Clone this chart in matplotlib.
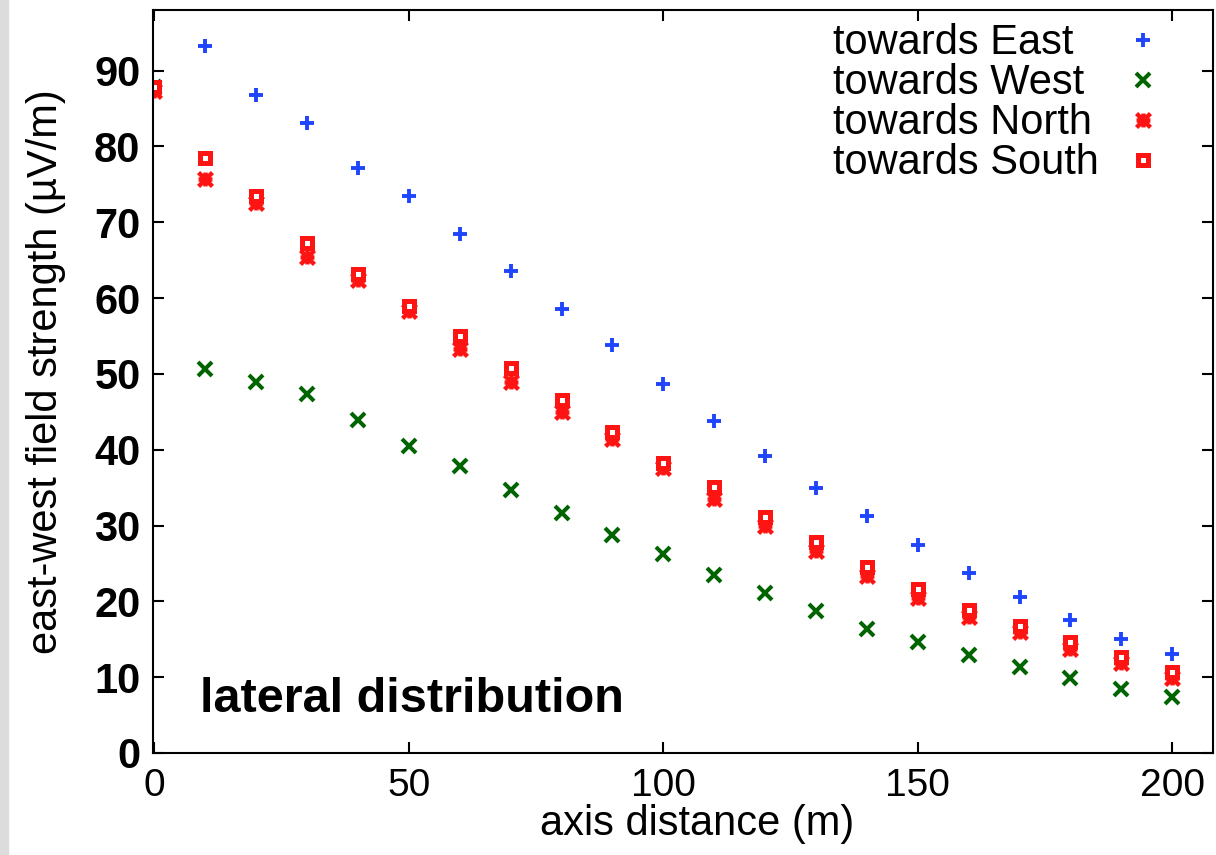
import numpy as np
import matplotlib.pyplot as plt
from matplotlib.patches import Rectangle
from matplotlib.path import Path

##### DATA #####

dist = [0, 10, 20, 30, 40, 50, 60, 70, 80, 90, 100,
        110, 120, 130, 140, 150, 160, 170, 180, 190, 200]

east = [87.8, 93.3, 86.8, 83.1, 77.2, 73.5, 68.4, 63.6, 58.5, 53.8, 48.7,
        43.8, 39.2, 34.9, 31.2, 27.4, 23.8, 20.6, 17.6, 15.1, 13.0]
west = [87.8, 50.7, 49.0, 47.4, 43.9, 40.5, 37.9, 34.7, 31.6, 28.8, 26.2,
        23.5, 21.1, 18.7, 16.3, 14.6, 12.9, 11.3, 9.9, 8.5, 7.4]
north = [87.3, 75.7, 72.5, 65.4, 62.4, 58.3, 53.3, 48.9, 45.0, 41.4, 37.6,
         33.5, 29.9, 26.6, 23.4, 20.5, 18.0, 15.9, 13.7, 11.9, 9.9]
south = [87.9, 78.5, 73.5, 67.3, 63.2, 59.0, 55.0, 50.8, 46.6, 42.4, 38.3,
         35.1, 31.1, 27.8, 24.5, 21.6, 18.9, 16.7, 14.6, 12.6, 10.7]

labels = ['towards East', 'towards West', 'towards North', 'towards South']

xticks = [0, 50, 100, 150, 200]
yticks = [0, 10, 20, 30, 40, 50, 60, 70, 80, 90]

##### FIGURE #####

plt.rcParams['font.family'] = ['Liberation Sans', 'DejaVu Sans']

fig = plt.figure(figsize=(12.16, 8.55), dpi=100)
ax = fig.add_axes([0.1258, 0.1193, 0.8717, 0.869])

# grey strip on the left edge of the screenshot
fig.patches.append(Rectangle((0, 0), 8 / 1216, 1, transform=fig.transFigure,
                             color='#dcdcdc', zorder=-1))

# gnuplot style asterisk: a plus with an x running to the corners
M, L = Path.MOVETO, Path.LINETO
star = Path([(-1, 0), (1, 0), (0, -1), (0, 1), (-1, -1), (1, 1), (-1, 1), (1, -1)],
            [M, L, M, L, M, L, M, L])

red = '#ff1414'
h1, = ax.plot(dist, east, ls='none', marker='+', ms=10.5, mew=2.8, color='#1f45fc')
h2, = ax.plot(dist, west, ls='none', marker='x', ms=9.5, mew=2.9, color='#006400')
h3, = ax.plot(dist, north, ls='none', marker=star, ms=10, mew=3.2, color=red)
h4, = ax.plot(dist, south, ls='none', marker='s', ms=7.4, mew=3.6, color=red,
              mfc='white')
handles = [h1, h2, h3, h4]

ax.set_xlim(-0.3, 208)
ax.set_ylim(0, 98)
ax.set_xticks(xticks)
ax.set_yticks(yticks)

ax.tick_params(direction='in', length=8, width=1.5, top=True, right=True)
ax.tick_params(axis='x', labelsize=28, pad=11)
ax.tick_params(axis='y', labelsize=30, pad=9)
for lab in ax.get_yticklabels():
    lab.set_fontweight('bold')
for sp in ax.spines.values():
    sp.set_linewidth(1.5)

ax.set_xlabel('axis distance (m)', fontsize=30)
ax.set_ylabel('east-west field strength (µV/m)', fontsize=30)
ax.xaxis.set_label_coords(0.513, -0.069)
ax.yaxis.set_label_coords(-0.082, 0.513)

ax.text(0.044, 0.055, 'lateral distribution', transform=ax.transAxes,
        fontsize=35, fontweight='bold', va='baseline', ha='left')

# legend: texts left-aligned in one column, markers in a column to the right
leg_txt = ax.legend(handles, labels, loc='upper left', bbox_to_anchor=(0.6415, 0.982),
                    frameon=False, fontsize=30, labelspacing=0,
                    handlelength=0, handletextpad=0, borderpad=0, borderaxespad=0)
for h in leg_txt.legend_handles:
    h.set_visible(False)
ax.add_artist(leg_txt)

ax.legend(handles, [''] * 4, loc='upper left', bbox_to_anchor=(0.9145, 0.982),
          frameon=False, fontsize=30, labelspacing=0,
          handlelength=1.0, handletextpad=0, borderpad=0, borderaxespad=0)

fig.savefig('out.png', dpi=100)
